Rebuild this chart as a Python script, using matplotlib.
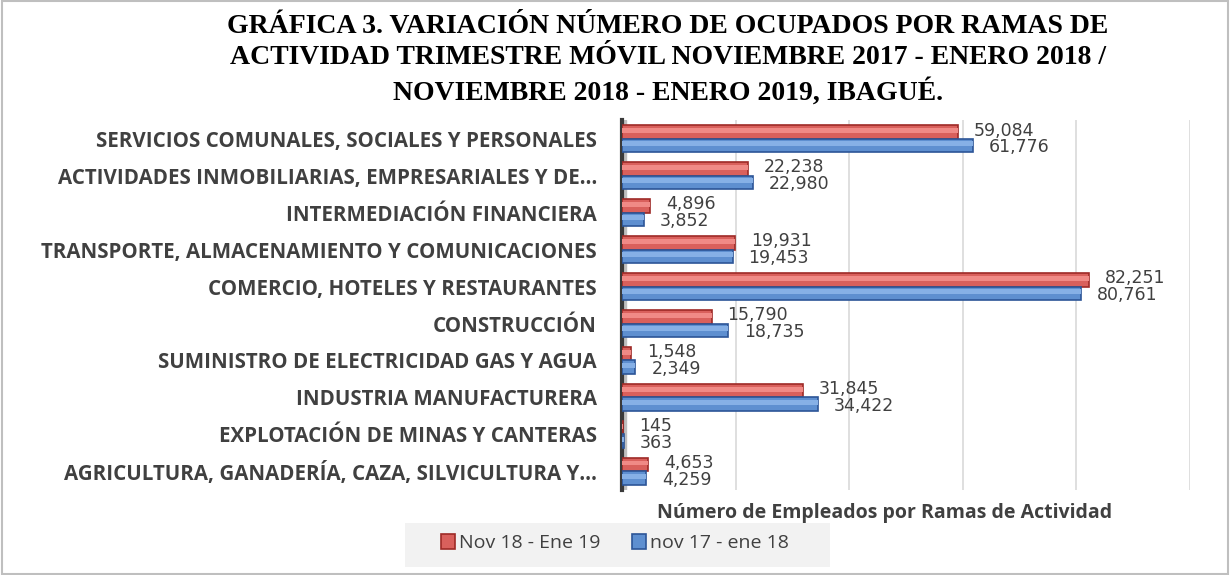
import matplotlib.pyplot as plt
import numpy as np
from matplotlib.patches import Rectangle

# data (top to bottom as shown)
categories = [
    "SERVICIOS COMUNALES, SOCIALES Y PERSONALES",
    "ACTIVIDADES INMOBILIARIAS, EMPRESARIALES Y DE…",
    "INTERMEDIACIÓN FINANCIERA",
    "TRANSPORTE, ALMACENAMIENTO Y COMUNICACIONES",
    "COMERCIO, HOTELES Y RESTAURANTES",
    "CONSTRUCCIÓN",
    "SUMINISTRO DE ELECTRICIDAD GAS Y AGUA",
    "INDUSTRIA MANUFACTURERA",
    "EXPLOTACIÓN DE MINAS Y CANTERAS",
    "AGRICULTURA, GANADERÍA, CAZA, SILVICULTURA Y…",
]
nov18_ene19 = [59084, 22238, 4896, 19931, 82251, 15790, 1548, 31845, 145, 4653]
nov17_ene18 = [61776, 22980, 3852, 19453, 80761, 18735, 2349, 34422, 363, 4259]
series_names = ["Nov 18 - Ene 19", "nov 17 - ene 18"]

title = ("GRÁFICA 3. VARIACIÓN NÚMERO DE OCUPADOS POR RAMAS DE\n"
         "ACTIVIDAD TRIMESTRE MÓVIL NOVIEMBRE 2017 - ENERO 2018 /\n"
         "NOVIEMBRE 2018 - ENERO 2019, IBAGUÉ.")

red_fill, red_edge = "#D9605C", "#9E2A27"
blue_fill, blue_edge = "#5E8FD0", "#2C5597"
text_col = "#404040"
label_font = "Open Sans"
value_font = "DejaVu Sans"

fig = plt.figure(figsize=(12.3, 5.75), dpi=100)
ax = fig.add_axes([0.5057, 0.148, 0.4618, 0.643])

y = np.arange(len(categories))
h = 0.36
# grey "wall" behind the value axis
ax.axvspan(0, 700, color="#BFBFBF", zorder=1)
# red bars above, blue bars below (y axis inverted)
ax.barh(y - h / 2, nov18_ene19, height=h, color=red_fill, edgecolor=red_edge,
        linewidth=1.2, label=series_names[0], zorder=3)
ax.barh(y + h / 2, nov17_ene18, height=h, color=blue_fill, edgecolor=blue_edge,
        linewidth=1.2, label=series_names[1], zorder=3)
# light highlight on the upper half of each bar (fake 3d look)
ax.barh(y - h / 2 - h * 0.12, nov18_ene19, height=h * 0.35, color="#F08A86",
        linewidth=0, zorder=4)
ax.barh(y + h / 2 - h * 0.12, nov17_ene18, height=h * 0.35, color="#86B0E6",
        linewidth=0, zorder=4)

for i, (a, b) in enumerate(zip(nov18_ene19, nov17_ene18)):
    ax.text(a + 2800, i - h / 2 - 0.04, f"{a:,}", va="center", ha="left",
            fontsize=12.5, color=text_col, family=value_font, zorder=5)
    ax.text(b + 2800, i + h / 2 + 0.04, f"{b:,}", va="center", ha="left",
            fontsize=12.5, color=text_col, family=value_font, zorder=5)

ax.set_xlim(0, 100000)
ax.set_ylim(len(categories) - 0.5, -0.5)
ax.set_xticks(np.arange(0, 100001, 20000))
ax.set_xticklabels([])
ax.tick_params(axis="x", length=0)
ax.grid(axis="x", color="#D9D9D9", linewidth=1.2, zorder=0)
ax.set_yticks(y)
ax.set_yticklabels(categories, fontsize=14.8, fontweight="bold", color=text_col,
                   family=label_font)
ax.tick_params(axis="y", length=0, pad=18)
for s in ["top", "right", "bottom"]:
    ax.spines[s].set_visible(False)
ax.spines["left"].set_color("#3A3A3A")
ax.spines["left"].set_linewidth(3)
ax.set_xlabel("Número de Empleados por Ramas de Actividad", fontsize=14,
              fontweight="bold", color=text_col, family=label_font)
ax.xaxis.set_label_coords(0.463, -0.035)

fig.suptitle(title, x=0.543, y=0.975, fontsize=20, fontweight="bold",
             family="Liberation Serif", linespacing=1.32)

# legend with grey band
fig.patches.append(Rectangle((405 / 1230, 8 / 575), 425 / 1230, 44 / 575,
                             transform=fig.transFigure, facecolor="#F2F2F2",
                             edgecolor="none", zorder=0))
handles, labels = ax.get_legend_handles_labels()
fig.legend(handles, labels, loc="center", bbox_to_anchor=(0.5, 0.055), ncol=2,
           frameon=False, prop={"family": label_font, "size": 14},
           labelcolor=text_col, handlelength=0.75, handleheight=0.75,
           handletextpad=0.2, columnspacing=1.6)

# outer frame
fig.patches.append(Rectangle((0.002, 0.002), 0.996, 0.996,
                             transform=fig.transFigure, facecolor="none",
                             edgecolor="#BFBFBF", linewidth=1.5))

fig.savefig("out.png", dpi=100)
